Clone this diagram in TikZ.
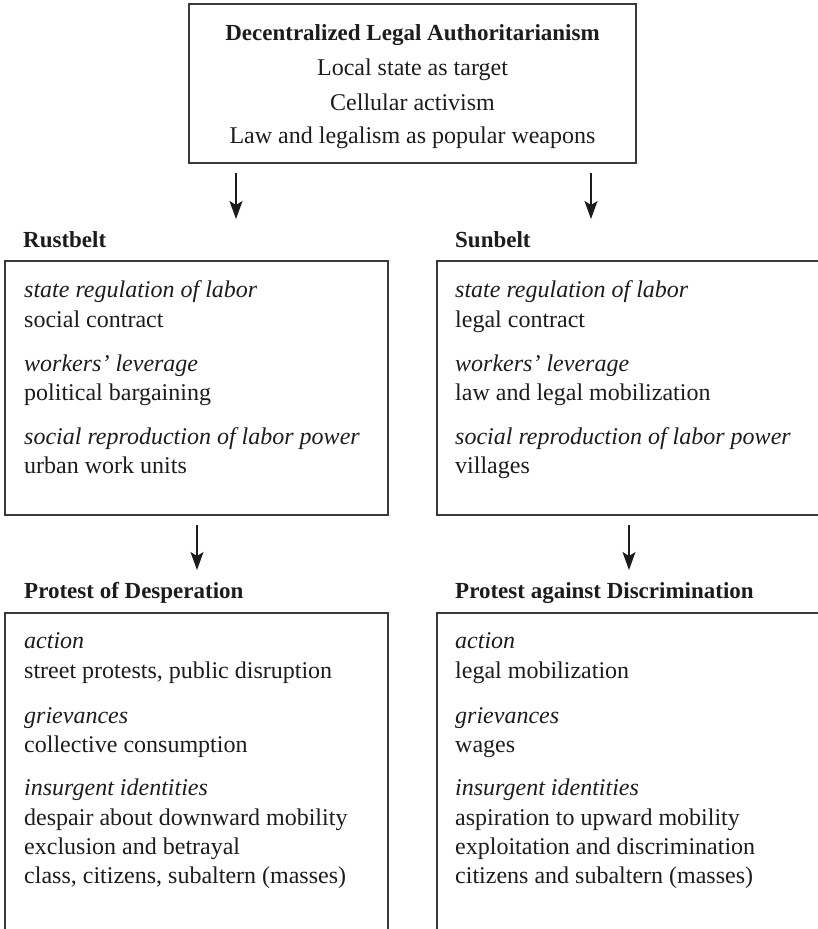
\documentclass[tikz,border=0pt]{standalone}
\usepackage{fontspec}
\setmainfont{Liberation Serif}
\usetikzlibrary{arrows.meta}
\definecolor{ink}{HTML}{1E1B1C}
\definecolor{frame}{HTML}{3A3A3A}
\begin{document}
\begin{tikzpicture}[x=1pt,y=-1pt,
  box/.style={draw=frame, line width=1.4pt, inner sep=0pt, outer sep=0pt, anchor=north west},
  openbox/.style={inner sep=0pt, outer sep=0pt, anchor=north west},
  txt/.style={anchor=base west, inner sep=0pt, text=ink, font=\fontsize{24}{29}\selectfont},
  ctr/.style={anchor=base, inner sep=0pt, text=ink, font=\fontsize{24}{29}\selectfont},
  lab/.style={txt, font=\fontsize{23}{29}\selectfont\bfseries},
  cat/.style={txt, font=\fontsize{24}{29}\selectfont\itshape},
  arr/.style={-{Stealth[length=18pt,width=13pt,inset=4pt]}, line width=1.5pt, draw=ink}]
\useasboundingbox (0,0) rectangle (818,929);

% top box
\node[box, minimum width=447pt, minimum height=159pt] (top) at (189,4) {};
\node[ctr, font=\fontsize{23}{29}\selectfont\bfseries] (t1) at (412.5,40) {Decentralized Legal Authoritarianism};
\node[ctr] (t2) at (412.5,75) {Local state as target};
\node[ctr] (t3) at (412.5,110) {Cellular activism};
\node[ctr] (t4) at (412.5,143) {Law and legalism as popular weapons};

% arrows to middle row
\coordinate (a1e) at (236,219);
\coordinate (a2e) at (591,219);
\draw[arr] ([yshift=-10pt]top.south -| a1e) -- (a1e);
\draw[arr] ([yshift=-10pt]top.south -| a2e) -- (a2e);

% middle row labels
\node[lab] (rbl) at (23,247) {Rustbelt};
\node[lab] (sbl) at (455,247) {Sunbelt};

% middle row boxes
\node[box, minimum width=383pt, minimum height=254pt] (rb) at (5,261) {};
\node[box, minimum width=393pt, minimum height=254pt] (sb) at (437,261) {};

\node[cat] (r1) at (24,297) {state regulation of labor};
\node[txt] (r2) at (24,327) {social contract};
\node[cat] (r3) at (24,371) {workers’ leverage};
\node[txt] (r4) at (24,400) {political bargaining};
\node[cat] (r5) at (24,444) {social reproduction of labor power};
\node[txt] (r6) at (24,473) {urban work units};

\node[cat] (s1) at (455,297) {state regulation of labor};
\node[txt] (s2) at (455,327) {legal contract};
\node[cat] (s3) at (455,371) {workers’ leverage};
\node[txt] (s4) at (455,400) {law and legal mobilization};
\node[cat] (s5) at (455,444) {social reproduction of labor power};
\node[txt] (s6) at (455,473) {villages};

% arrows to bottom row
\coordinate (b1e) at (197,570);
\coordinate (b2e) at (629,570);
\draw[arr] ([yshift=-10pt]rb.south -| b1e) -- (b1e);
\draw[arr] ([yshift=-10pt]sb.south -| b2e) -- (b2e);

% bottom row labels
\node[lab] (pdl) at (24,598) {Protest of Desperation};
\node[lab] (pal) at (455,598) {Protest against Discrimination};

% bottom row open boxes
\node[openbox, minimum width=383pt, minimum height=330pt] (pd) at (5,613) {};
\node[openbox, minimum width=393pt, minimum height=330pt] (pa) at (437,613) {};
\draw[draw=frame, line width=1.4pt] (pd.south west) -- (pd.north west) -- (pd.north east) -- (pd.south east);
\draw[draw=frame, line width=1.4pt] (pa.south west) -- (pa.north west) -- (pa.north east) -- (pa.south east);

\node[cat] (d1) at (24,648) {action};
\node[txt] (d2) at (24,678) {street protests, public disruption};
\node[cat] (d3) at (24,723) {grievances};
\node[txt] (d4) at (24,752) {collective consumption};
\node[cat] (d5) at (24,795) {insurgent identities};
\node[txt] (d6) at (24,825) {despair about downward mobility};
\node[txt] (d7) at (24,854) {exclusion and betrayal};
\node[txt] (d8) at (24,883) {class, citizens, subaltern (masses)};

\node[cat] (g1) at (455,648) {action};
\node[txt] (g2) at (455,678) {legal mobilization};
\node[cat] (g3) at (455,723) {grievances};
\node[txt] (g4) at (455,752) {wages};
\node[cat] (g5) at (455,795) {insurgent identities};
\node[txt] (g6) at (455,825) {aspiration to upward mobility};
\node[txt] (g7) at (455,854) {exploitation and discrimination};
\node[txt] (g8) at (455,883) {citizens and subaltern (masses)};
\end{tikzpicture}
\end{document}
